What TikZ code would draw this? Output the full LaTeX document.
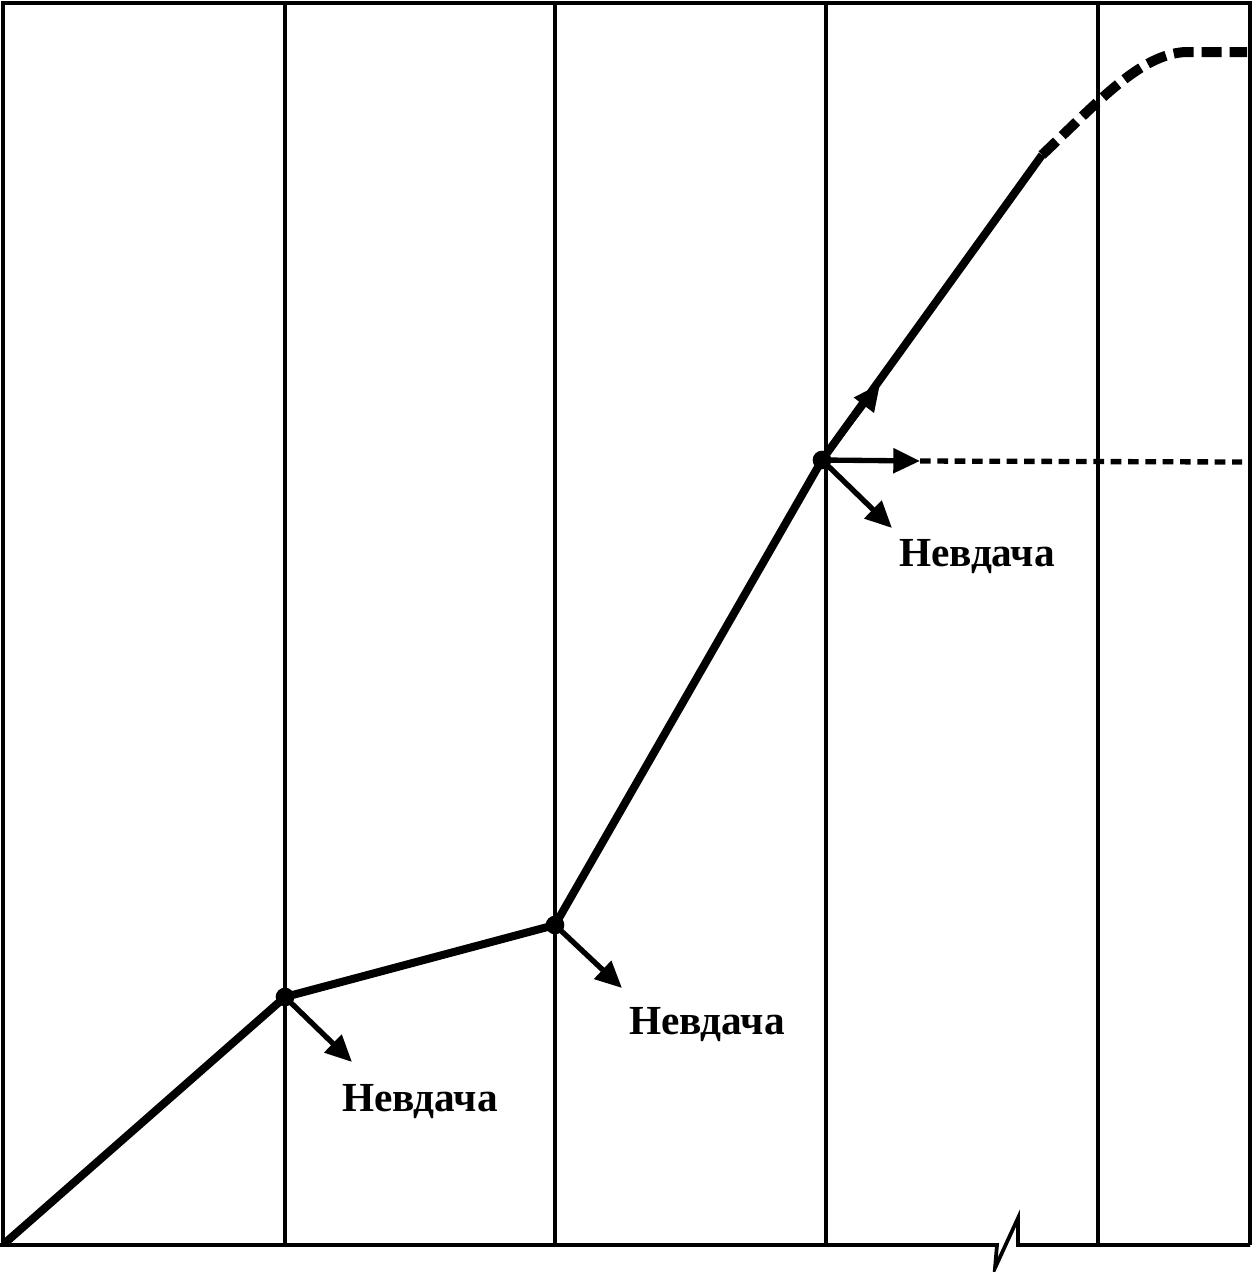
\documentclass[tikz,border=0pt]{standalone}
\usepackage{fontspec}
\setmainfont{Liberation Serif}
\usepackage{tikz}
\usetikzlibrary{arrows.meta}

\tikzset{
  dot/.style={circle,fill=black,inner sep=0pt,minimum size=14pt},
  failarrow/.style={line width=4pt,-{Triangle[length=20pt,width=18pt]}},
  faillabel/.style={font=\bfseries\fontsize{31}{35}\selectfont,inner sep=0pt}
}

\begin{document}
\begin{tikzpicture}[x=0.75pt,y=0.75pt,yscale=-1,xscale=1]
\path[use as bounding box] (0,0) rectangle (1258,1272);

%Shape: Frame
\draw[line width=3.2pt] (3,1245) -- (3,3) -- (1250,3) -- (1250,1245);
%Shape: Bottom line with break
\draw[line width=2.8pt,line join=miter] (0,1245) -- (997,1245) -- (995,1268) -- (1018,1218) -- (1018,1245) -- (1250,1245);
%Shape: Vertical lines
\foreach \x in {285,555,826,1098}
  \draw[line width=2.6pt] (\x,3) -- (\x,1245);

% Points
\coordinate (p0) at (5,1243);
\node[dot] (p1) at (285,997) {};
\node[dot] (p2) at (555,925) {};
\node[dot] (p3) at (822,460) {};
\coordinate (p4) at (1042,155);

%Shape: Main line
\draw[line width=6pt] (p0) -- (p1.center) -- (p2.center) -- (p3.center) -- (p4);
%Shape: Dashed end
\draw[line width=7.5pt,dash pattern=on 15pt off 6pt] (p4) .. controls (1100,100) and (1140,55) .. (1185,52) -- (1247,52);

% Arrows
\coordinate (f1) at (352,1062);
\coordinate (f2) at (622,988);
\coordinate (f3) at (892,528);
\coordinate (h3) at (920,461);
\coordinate (u3) at (880,384);
\coordinate (e3) at (1242,462);
\draw[failarrow] (p1.center) -- (f1);
\draw[failarrow] (p2.center) -- (f2);
\draw[failarrow] (p3.center) -- (f3);
\draw[failarrow] (p3.center) -- (h3);
\draw[failarrow] (p3.center) -- (u3);
%Shape: Dashed horizontal
\draw[line width=4pt,dash pattern=on 8pt off 5pt] (h3) -- (e3);

% Text Node
\node[faillabel] (l1) at (420,1102) {Невдача};
% Text Node
\node[faillabel] (l2) at (707,1025) {Невдача};
% Text Node
\node[faillabel] (l3) at (977,557) {Невдача};

\end{tikzpicture}
\end{document}
